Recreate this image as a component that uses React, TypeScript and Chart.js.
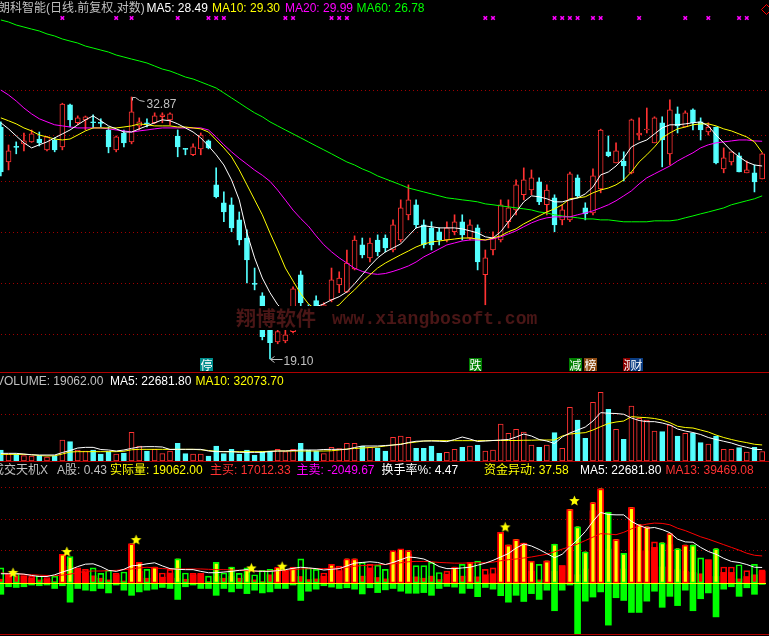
import React, { useEffect, useRef } from 'react';
import { Chart, registerables } from 'chart.js';

Chart.register(...registerables);

// ---------------- price candles ----------------
const OPEN = [
  30.88, 28.73, 29.67, 29.83, 29.95, 30.13, 29.46, 30.07, 29.64, 32.34,
  31.16, 31.35, 31.22, 31.19, 30.70, 29.46, 30.51, 29.95, 30.96, 31.16,
  31.16, 31.55, 31.35, 30.32, 29.52, 29.16, 29.52, 30.01, 27.40, 26.40,
  26.29, 25.48, 24.54, 22.34, 21.77, 20.29, 19.79, 19.83, 20.21, 22.74,
  21.24, 21.56, 21.06, 21.59, 22.27, 21.95, 23.02, 24.19, 23.55, 24.44,
  24.54, 23.94, 24.44, 25.75, 26.29, 25.22, 25.06, 24.86, 24.44, 24.86,
  25.38, 24.54, 25.06, 22.74, 23.94, 24.44, 25.38, 26.01, 26.84, 27.11,
  27.57, 26.29, 26.67, 25.48, 25.48, 27.80, 26.12, 25.85, 27.17, 29.34,
  28.67, 28.79, 28.09, 30.38, 30.70, 29.89, 31.16, 29.22, 31.74, 30.89,
  32.00, 31.22, 30.57, 30.89, 28.32, 28.73, 29.10, 28.09, 28.09, 27.74,
];
const HIGH = [
  31.22, 29.76, 29.95, 30.51, 30.70, 30.57, 30.30, 30.20, 32.45, 32.40,
  31.61, 31.60, 31.68, 31.42, 30.89, 30.32, 30.70, 32.87, 31.48, 31.42,
  31.81, 31.81, 31.81, 30.70, 29.55, 29.83, 30.51, 30.07, 28.38, 27.00,
  26.67, 25.90, 24.96, 23.06, 21.91, 20.37, 20.37, 20.29, 22.18, 22.92,
  21.37, 21.77, 21.46, 23.06, 22.88, 23.94, 24.65, 24.54, 24.54, 24.70,
  24.70, 25.48, 26.56, 27.40, 26.56, 25.48, 25.38, 25.06, 25.38, 25.75,
  25.75, 25.48, 25.22, 23.94, 24.86, 26.56, 26.56, 27.68, 28.38, 28.26,
  27.80, 27.40, 26.84, 26.29, 28.14, 27.97, 26.40, 28.32, 30.75, 30.32,
  29.89, 29.34, 31.40, 31.48, 32.13, 31.55, 31.55, 32.67, 32.20, 31.94,
  32.07, 31.48, 31.16, 30.89, 29.58, 29.34, 29.28, 28.79, 28.55, 29.28,
];
const LOW = [
  27.91, 28.26, 29.22, 29.40, 29.92, 29.70, 29.40, 29.34, 29.46, 30.89,
  31.03, 30.70, 30.83, 30.89, 29.28, 29.34, 29.64, 29.83, 30.70, 30.89,
  31.10, 31.16, 31.03, 29.04, 29.16, 29.10, 29.16, 29.52, 26.67, 25.38,
  24.86, 24.19, 22.36, 22.04, 19.87, 19.10, 19.71, 19.75, 20.16, 21.33,
  20.50, 21.30, 20.80, 21.50, 21.91, 21.91, 22.97, 23.55, 23.35, 23.65,
  23.84, 23.84, 24.34, 25.48, 25.06, 24.04, 23.94, 24.19, 24.34, 24.70,
  24.44, 24.44, 22.97, 21.37, 23.70, 24.34, 25.06, 25.75, 26.56, 26.84,
  26.29, 25.75, 24.86, 25.22, 25.38, 26.67, 25.48, 25.75, 26.95, 29.04,
  28.67, 27.62, 28.03, 30.07, 30.51, 29.89, 28.44, 28.55, 30.51, 30.89,
  30.70, 30.07, 30.38, 28.61, 28.09, 28.55, 28.14, 28.09, 27.00, 27.74,
];
const CLOSE = [
  28.14, 29.40, 29.61, 30.01, 30.45, 29.89, 30.26, 29.46, 32.40, 31.35,
  31.48, 31.55, 31.16, 31.12, 29.64, 30.26, 29.89, 31.87, 31.22, 31.09,
  31.61, 31.68, 31.74, 29.64, 29.49, 29.64, 30.38, 29.58, 26.73, 25.90,
  25.06, 24.44, 23.45, 22.29, 20.00, 19.75, 20.21, 20.08, 22.09, 21.46,
  20.80, 21.33, 21.37, 22.50, 22.59, 23.30, 24.44, 23.70, 24.29, 23.84,
  24.04, 25.22, 26.12, 26.56, 25.22, 24.19, 24.19, 24.44, 25.06, 25.38,
  24.70, 25.22, 23.35, 23.55, 24.54, 26.29, 26.12, 27.40, 27.68, 27.80,
  26.45, 27.11, 25.22, 26.01, 28.03, 26.78, 25.80, 27.91, 30.70, 29.10,
  29.40, 28.49, 31.35, 30.51, 30.76, 31.48, 30.07, 32.00, 30.96, 31.81,
  31.16, 30.70, 30.89, 28.67, 28.97, 29.34, 28.14, 28.26, 27.57, 29.22,
];

// ---------------- price moving averages ----------------
const MA5 = [
  31.16, 30.77, 30.32, 29.89, 29.58, 29.77, 29.95, 30.20, 30.45, 30.70,
  31.03, 31.35, 31.61, 31.29, 30.96, 30.77, 30.57, 30.57, 30.77, 30.96,
  31.16, 31.35, 31.29, 31.09, 30.83, 30.57, 30.20, 29.70, 29.16, 28.55,
  27.68, 26.56, 24.80, 23.55, 22.59, 21.91, 21.37, 21.06, 20.93, 21.02,
  21.15, 21.28, 21.41, 21.59, 21.73, 21.95, 22.32, 22.74, 23.16, 23.55,
  23.84, 24.04, 24.24, 24.65, 25.06, 25.17, 25.12, 25.06, 25.06, 25.06,
  25.01, 24.91, 24.80, 24.60, 24.54, 24.86, 25.38, 25.90, 26.45, 26.78,
  26.73, 26.62, 26.45, 26.45, 26.56, 26.67, 26.89, 27.28, 27.97, 28.14,
  28.49, 28.97, 29.64, 29.89, 30.07, 30.45, 30.83, 31.03, 31.03, 31.09,
  31.16, 31.22, 30.96, 30.38, 29.89, 29.40, 29.04, 28.73, 28.55, 28.49,
];
const MA10 = [
  31.48, 31.29, 31.09, 30.83, 30.64, 30.38, 30.26, 30.13, 30.07, 30.13,
  30.38, 30.64, 30.83, 30.83, 30.83, 30.83, 30.89, 30.96, 31.09, 31.03,
  30.96, 30.96, 30.96, 30.89, 30.89, 30.83, 30.77, 30.57, 30.07, 29.58,
  29.04, 28.26, 27.40, 26.56, 25.75, 24.80, 23.94, 23.06, 22.45, 21.86,
  21.41, 21.15, 21.06, 21.19, 21.37, 21.73, 22.04, 22.41, 22.74, 23.06,
  23.30, 23.50, 23.70, 23.89, 24.09, 24.24, 24.34, 24.39, 24.44, 24.49,
  24.54, 24.54, 24.49, 24.44, 24.54, 24.65, 24.86, 25.01, 25.27, 25.48,
  25.69, 25.90, 26.07, 26.29, 26.62, 26.67, 26.73, 26.95, 27.11, 27.22,
  27.40, 27.68, 28.14, 28.73, 29.16, 29.64, 30.20, 30.51, 30.77, 30.89,
  31.03, 31.09, 31.09, 30.96, 30.77, 30.64, 30.45, 30.26, 29.95, 29.30,
];
const MA20 = [
  33.35, 33.01, 32.60, 32.13, 31.74, 31.42, 31.22, 31.03, 30.96, 30.89,
  30.83, 30.83, 30.83, 30.83, 30.77, 30.70, 30.64, 30.57, 30.64, 30.70,
  30.77, 30.83, 30.83, 30.83, 30.83, 30.83, 30.83, 30.70, 30.26, 29.77,
  29.34, 28.95, 28.60, 28.25, 27.95, 27.60, 27.10, 26.55, 26.00, 25.55,
  25.15, 24.65, 24.20, 23.85, 23.55, 23.30, 23.05, 22.90, 22.80, 22.76,
  22.80, 22.90, 23.02, 23.16, 23.35, 23.60, 23.79, 23.99, 24.19, 24.29,
  24.39, 24.44, 24.44, 24.44, 24.49, 24.60, 24.75, 24.91, 25.12, 25.32,
  25.48, 25.59, 25.64, 25.64, 25.64, 25.75, 25.85, 25.96, 26.12, 26.29,
  26.51, 26.78, 27.06, 27.45, 27.80, 28.03, 28.26, 28.49, 28.79, 29.04,
  29.28, 29.58, 29.77, 29.89, 29.95, 30.01, 30.07, 30.07, 30.01, 29.99,
];
const MA60 = [
  38.56, 38.40, 38.16, 38.00, 37.84, 37.69, 37.46, 37.30, 37.07, 36.91,
  36.76, 36.53, 36.38, 36.23, 36.08, 35.86, 35.71, 35.56, 35.42, 35.27,
  35.05, 34.83, 34.69, 34.48, 34.26, 34.12, 33.91, 33.70, 33.49, 33.15,
  32.81, 32.47, 32.13, 31.81, 31.55, 31.22, 30.96, 30.70, 30.45, 30.20,
  29.95, 29.70, 29.46, 29.22, 28.97, 28.73, 28.55, 28.32, 28.14, 27.91,
  27.74, 27.57, 27.40, 27.22, 27.11, 27.00, 26.89, 26.78, 26.67, 26.62,
  26.56, 26.51, 26.45, 26.34, 26.29, 26.23, 26.18, 26.12, 26.07, 26.01,
  25.90, 25.85, 25.75, 25.69, 25.64, 25.59, 25.53, 25.53, 25.48, 25.48,
  25.43, 25.38, 25.38, 25.38, 25.38, 25.43, 25.43, 25.43, 25.48, 25.59,
  25.69, 25.80, 25.90, 26.01, 26.12, 26.29, 26.40, 26.51, 26.62, 26.78,
];

// ---------------- volume panel ----------------
const VOLUME = [
  22000, 14000, 14000, 10600, 10000, 10600, 8000, 10000, 42000, 38600,
  22000, 20000, 22000, 14000, 18600, 14000, 16000, 57300, 30000, 20000,
  23300, 14600, 20000, 35300, 14600, 14000, 14000, 10000, 30000, 14600,
  23300, 14000, 22000, 12000, 18600, 20000, 23300, 18600, 23300, 35300,
  22000, 20000, 14600, 27300, 24600, 35300, 35300, 30000, 27300, 26000,
  20000, 47300, 50000, 47300, 25300, 25300, 30000, 15300, 17300, 23300,
  27300, 30000, 32000, 20000, 22000, 74000, 55300, 63300, 58000, 32000,
  27300, 32000, 56600, 25300, 107300, 82000, 45300, 117300, 137300, 103300,
  63300, 43300, 110000, 85300, 82000, 60000, 58600, 72000, 50000, 55300,
  55300, 36600, 34000, 50000, 23300, 23300, 26600, 18000, 27300, 19062,
];
const VOL_MA5 = [
  15300, 15300, 15300, 14000, 12500, 12000, 12000, 12000, 17000, 21000,
  26000, 27300, 27300, 23000, 22000, 20000, 22000, 25300, 28000, 28700,
  28700, 28000, 23000, 23300, 23300, 23300, 23300, 20000, 18700, 18700,
  18700, 17300, 17300, 17300, 17300, 19000, 20000, 20000, 21000, 22000,
  22000, 22000, 23000, 23300, 23300, 23300, 27000, 30000, 30000, 30000,
  31000, 32000, 33000, 37000, 39500, 40000, 40000, 39500, 38700, 43000,
  48000, 44000, 39000, 40000, 41000, 42000, 43000, 48000, 54000, 50000,
  43000, 40000, 35000, 48000, 56000, 62000, 68000, 80000, 96700, 95500,
  95000, 93500, 86000, 81000, 78700, 78700, 76000, 72000, 64000, 60000,
  57000, 53000, 47000, 43000, 39500, 36000, 31000, 27300, 23500, 22681.8,
];
const VOL_MA10 = [
  13300, 13300, 13300, 13300, 12500, 11000, 10000, 10500, 14000, 18000,
  18700, 18700, 18700, 18700, 18700, 18700, 19500, 22500, 23300, 23300,
  23300, 23300, 23300, 23300, 23300, 23300, 22500, 21000, 19500, 18700,
  18700, 18700, 18700, 18700, 18700, 19500, 20000, 20000, 20000, 20000,
  20000, 20000, 20000, 20500, 22000, 24000, 25000, 26000, 27000, 28000,
  30000, 32000, 34000, 36000, 38000, 40000, 40700, 40700, 40700, 40700,
  40700, 40700, 40700, 40700, 41000, 41000, 41000, 41000, 41500, 41500,
  42000, 42000, 42000, 50000, 54000, 55500, 56700, 62000, 68700, 75000,
  78000, 80000, 88700, 87500, 86700, 85000, 82000, 76700, 69500, 67000,
  66000, 62000, 58000, 52000, 47000, 43000, 39500, 36700, 33500, 32073.7,
];

// ---------------- money-flow panel ----------------
const BUY = [
  5500, 12000, 10500, 10500, 7000, 4500, 5500, 2000, 41000, 24500,
  20000, 16000, 10500, 7000, 4500, 12000, 3000, 57000, 17000, 7000,
  23000, 8500, 14500, 7000, 5500, 12000, 13500, 2000, 9500, 7000,
  9500, 7000, 12000, 4500, 2000, 12000, 22000, 17000, 22000, 9500,
  5000, 6000, 10000, 22000, 18000, 33000, 32000, 10000, 22000, 8000,
  6000, 44000, 46000, 42000, 9000, 7000, 10000, 5000, 13000, 18000,
  10000, 24000, 9000, 12000, 13500, 74000, 55300, 63300, 58000, 17000,
  4500, 32000, 17000, 25300, 107300, 12000, 20500, 105500, 137300, 49500,
  63300, 20500, 110000, 47000, 47000, 52000, 23500, 56000, 19500, 17000,
  15500, 13500, 34000, 9500, 15500, 15500, 6000, 9500, 12000, 17012.33,
];
const SELL = [
  -16500, -5500, -6500, -5500, -3000, -4000, -3000, -8000, -4000, -28000,
  -8000, -10500, -11500, -8000, -14500, -3000, -10500, -18000, -13000, -10500,
  -9000, -6500, -8000, -24000, -5500, -3000, -8000, -8000, -18000, -8000,
  -13000, -8000, -15500, -10500, -14500, -13000, -8000, -8000, -3000, -25500,
  -12000, -9000, -4000, -6000, -8000, -7000, -9000, -16000, -7000, -14000,
  -10000, -8000, -12000, -15000, -15000, -14000, -18000, -8000, -5000, -6000,
  -15000, -8000, -20000, -6500, -9000, -18500, -28000, -18000, -27000, -15500,
  -24000, -10500, -40500, -10500, -3000, -74500, -26500, -20500, -13000, -61500,
  -21500, -25500, -43000, -43000, -26500, -12000, -35500, -19500, -33000, -10500,
  -40500, -23000, -14500, -49500, -9000, -5500, -19500, -7000, -16500, -2049.67,
];
const SURGE_IDX = [8, 9, 17, 18, 20, 23, 28, 30, 32, 36, 38, 43, 45, 46, 51, 52, 53, 59, 61,
  65, 66, 67, 68, 69, 71, 72, 74, 75, 76, 77, 78, 79, 80, 81, 82, 83, 84, 86, 87, 88, 89, 90, 93];
const SURGE_VAL = [41000, 37000, 57000, 30000, 23000, 35000, 28500, 23000, 19500, 22000, 22000, 27000, 35000, 35000, 46000, 48000, 47000, 23000, 30000,
  74000, 55300, 63300, 58000, 31500, 32000, 56600, 107300, 82000, 45300, 117300, 137300, 103300, 63300, 43300, 110000, 85300, 82000, 58600, 72000, 50000, 55300, 55300, 50000];
const FLOW_MA5 = [
  13500, 13500, 13500, 13000, 11000, 9500, 9500, 12000, 16000, 19500,
  24000, 27500, 28000, 24000, 18500, 17000, 20000, 25000, 26000, 28000,
  29500, 25000, 21000, 20000, 19500, 19500, 17000, 15000, 15000, 16000,
  17000, 18500, 19500, 17500, 17000, 17000, 18000, 19500, 21500, 23000,
  22000, 21000, 19000, 20000, 21000, 25000, 29000, 30000, 31000, 30000,
  27000, 30000, 34000, 38000, 37000, 35000, 30000, 24000, 21000, 21000,
  22000, 23000, 26000, 29000, 33000, 38000, 43000, 51000, 57000, 54000,
  49000, 43000, 37000, 42000, 53000, 63000, 75000, 90000, 103000, 100000,
  99500, 99500, 90000, 84000, 80000, 81000, 78000, 73500, 64000, 60000,
  59500, 52000, 46000, 42000, 36000, 31500, 30000, 27000, 23000, 22681.8,
];
const FLOW_MA13 = [
  14500, 14000, 13500, 12500, 12000, 11500, 11000, 10500, 11500, 13000,
  15000, 17000, 17500, 17500, 18000, 18500, 19500, 20500, 22000, 23000,
  22000, 21000, 20500, 20500, 20500, 20500, 20500, 20000, 19500, 19500,
  19000, 18500, 18000, 17500, 17000, 17500, 18000, 18500, 19500, 20500,
  21000, 21000, 21000, 21500, 22000, 23000, 24500, 25500, 26000, 26500,
  27000, 28000, 29500, 31000, 31500, 31500, 31000, 30000, 29500, 29000,
  29000, 29500, 29500, 29500, 30500, 32500, 34000, 35000, 36500, 38000,
  40000, 42000, 45500, 49500, 53000, 57000, 62000, 67000, 72000, 71500,
  70500, 74000, 79000, 83500, 86000, 87500, 87000, 85000, 80000, 76500,
  72000, 67500, 64000, 60000, 56000, 52000, 48000, 43500, 40500, 39469.08,
];
const STAR_IDX = [1, 8, 17, 32, 36, 65, 74];
const STAR_VAL = [15500, 46000, 63500, 22000, 24500, 82000, 120500];

// ---------------- markers / signals / grids ----------------
const MARK_IDX = [8, 15, 17, 23, 27, 28, 29, 37, 38, 43, 44, 45, 63, 64, 72, 73, 74, 75, 77, 78, 83, 89, 92, 96, 97];
const MARK_PRICE = 38.72;
const SIGNAL_IDX = [26, 61, 74, 76, 81, 82];
const SIGNAL_TEXT = ['停', '跌', '减', '榜', '测', '财'];
const SIGNAL_BG = ['#008c8c', '#008000', '#008000', '#8b4a13', '#8b0000', '#0a3c82'];
const PRICE_GRID = [33.35, 30.32, 27.57, 24.8, 22.32, 20.08];
const VOL_GRID = [92000];
const FLOW_GRID = [46720, 92710, 138700];

const LABELS = OPEN.map((_, i) => 'D' + (i + 1));
const UP = OPEN.map((o, i) => CLOSE[i] >= o);
const SURGE = LABELS.map((_, i) => { const k = SURGE_IDX.indexOf(i); return k >= 0 ? SURGE_VAL[k] : null; });
const STAR = LABELS.map((_, i) => { const k = STAR_IDX.indexOf(i); return k >= 0 ? STAR_VAL[k] : null; });
const MARK = LABELS.map((_, i) => (MARK_IDX.includes(i) ? MARK_PRICE : null));

const RED = '#ff3232';
const CYAN = '#54ffff';
const GRID_RED = '#a00000';

const HEADER = [
  { top: 1, items: [[-2, '朗科智能(日线.前复权.对数)', '#c0c0c0'], [146.5, 'MA5: 28.49', '#ffffff'], [212, 'MA10: 29.30', '#ffff00'], [285, 'MA20: 29.99', '#ff00ff'], [356.5, 'MA60: 26.78', '#00ff00']] },
  { top: 374, items: [[-4, 'VOLUME: 19062.00', '#c0c0c0'], [110, 'MA5: 22681.80', '#ffffff'], [195.5, 'MA10: 32073.70', '#ffff00']] },
  { top: 463, items: [[-8, '成交天机X', '#c0c0c0'], [57, 'A股: 0.43', '#c0c0c0'], [110, '实际量: 19062.00', '#ffff00'], [210, '主买: 17012.33', '#ff3232'], [296.5, '主卖: -2049.67', '#ff00ff'], [381.5, '换手率%: 4.47', '#ffffff'], [484, '资金异动: 37.58', '#ffff00'], [580, 'MA5: 22681.80', '#ffffff'], [665.5, 'MA13: 39469.08', '#ff3232']] },
];

function makeStar(r: number, dx: number) {
  const c = document.createElement('canvas');
  const w = Math.ceil(2 * (r + Math.abs(dx)) + 2);
  const h = Math.ceil(2 * r + 2);
  c.width = w; c.height = h;
  const g = c.getContext('2d')!;
  const cx = w / 2 + dx, cy = h / 2 + 0.5;
  g.beginPath();
  for (let k = 0; k < 10; k++) {
    const a = -Math.PI / 2 + (k * Math.PI) / 5;
    const rr = k % 2 === 0 ? r : r * 0.45;
    g.lineTo(cx + rr * Math.cos(a), cy + rr * Math.sin(a));
  }
  g.closePath();
  g.fillStyle = '#ffff00';
  g.fill();
  return c;
}

const xAxis = { type: 'category', display: false, offset: true, grid: { display: false } };
const gridY = (extra: any, gridVals: number[]) => ({
  display: true,
  bounds: 'data',
  ticks: { display: false },
  grid: { color: GRID_RED, lineWidth: 1, drawTicks: false },
  border: { display: false, dash: [1, 3] },
  afterBuildTicks: (s: any) => { s.ticks = gridVals.map((v) => ({ value: v })); },
  ...extra,
});
const baseOpts = (scales: any, padRight = 0) => ({
  responsive: false,
  maintainAspectRatio: false,
  animation: false,
  devicePixelRatio: 1,
  events: [],
  layout: { autoPadding: false, padding: { left: 0, right: padRight, top: 0, bottom: 0 } },
  plugins: { legend: { display: false }, tooltip: { enabled: false } },
  scales,
});
const lineDs = (data: any[], color: string, order = 0) => ({
  type: 'line', data, borderColor: color, borderWidth: 1, pointRadius: 0, tension: 0, order, spanGaps: true,
});

const p1Overlay = {
  id: 'p1Overlay',
  afterDatasetsDraw(chart: any) {
    const { ctx, scales, chartArea } = chart;
    const x = scales.x, y = scales.y;
    ctx.save();
    // watermark (its band hides what lies beneath)
    ctx.fillStyle = '#000';
    ctx.fillRect(235, 306, 308, 24);
    ctx.fillStyle = '#4a1616';
    ctx.textAlign = 'left';
    ctx.textBaseline = 'middle';
    ctx.font = 'bold 20px "Noto Sans CJK SC"';
    ctx.fillText('翔博软件', 239, 318);
    ctx.font = 'bold 18px "Liberation Mono"';
    ctx.fillText('www.xiangbosoft.com', 335, 319);

    // highest / lowest price notes
    let hi = 0, lo = 0;
    HIGH.forEach((v, i) => { if (v > HIGH[hi]) hi = i; });
    LOW.forEach((v, i) => { if (v < LOW[lo]) lo = i; });
    ctx.strokeStyle = '#c0c0c0';
    ctx.fillStyle = '#c0c0c0';
    ctx.lineWidth = 1;
    ctx.font = '12px "Liberation Sans"';
    ctx.textBaseline = 'alphabetic';
    const hx = Math.round(x.getPixelForValue(hi)) + 0.5, hy = Math.round(y.getPixelForValue(HIGH[hi])) + 0.5;
    ctx.beginPath();
    ctx.moveTo(hx, hy + 3); ctx.lineTo(hx, hy); ctx.lineTo(hx + 3, hy);
    ctx.lineTo(hx + 7, hy + 3); ctx.lineTo(hx + 12, hy + 4);
    ctx.stroke();
    ctx.fillText(HIGH[hi].toFixed(2), hx + 14, hy + 10);
    const lx = Math.round(x.getPixelForValue(lo)) + 0.5, ly = Math.round(y.getPixelForValue(LOW[lo])) + 0.5;
    ctx.beginPath();
    ctx.moveTo(lx, ly); ctx.lineTo(lx + 12, ly);
    ctx.moveTo(lx + 4, ly - 3); ctx.lineTo(lx, ly); ctx.lineTo(lx + 4, ly + 3);
    ctx.stroke();
    ctx.fillText(LOW[lo].toFixed(2), lx + 13, ly + 5);

    // signal boxes
    ctx.font = '12px "Noto Sans CJK SC"';
    ctx.textAlign = 'center';
    ctx.textBaseline = 'middle';
    SIGNAL_IDX.forEach((idx, k) => {
      const left = Math.round(x.getPixelForValue(idx)) - 1;
      const top = chartArea.bottom - 14;
      ctx.fillStyle = SIGNAL_BG[k];
      ctx.fillRect(left, top, 13, 13);
      ctx.fillStyle = '#ffffff';
      ctx.fillText(SIGNAL_TEXT[k], left + 6.5, top + 7);
    });

    // diamond at top right
    ctx.strokeStyle = '#ff0000';
    ctx.beginPath();
    ctx.moveTo(764.5, 9.5); ctx.lineTo(769.5, 4.5); ctx.lineTo(774.5, 9.5); ctx.lineTo(769.5, 14.5); ctx.closePath();
    ctx.stroke();
    ctx.restore();
  },
};

const p3Overlay = {
  id: 'p3Overlay',
  afterDatasetsDraw(chart: any) {
    const { ctx, scales, chartArea } = chart;
    const yz = Math.round(scales.y.getPixelForValue(0)) + 0.5;
    ctx.save();
    ctx.strokeStyle = '#ffff00';
    ctx.lineWidth = 1;
    ctx.beginPath();
    ctx.moveTo(chartArea.left, yz); ctx.lineTo(chartArea.right, yz);
    ctx.stroke();
    ctx.restore();
  },
};

export default function App() {
  const r1 = useRef<HTMLCanvasElement>(null);
  const r2 = useRef<HTMLCanvasElement>(null);
  const r3 = useRef<HTMLCanvasElement>(null);

  useEffect(() => {
    const charts: any[] = [];
    const star = makeStar(5.5, 4.5);

    charts.push(new Chart(r1.current as any, {
      type: 'bar',
      data: {
        labels: LABELS,
        datasets: [
          { type: 'line', data: MARK, showLine: false, pointStyle: 'crossRot', pointRadius: 2.5, borderWidth: 1.6, borderColor: '#ff00ff', order: -1 } as any,
          lineDs(MA5, '#ffffff'), lineDs(MA10, '#ffff00'), lineDs(MA20, '#ff00ff'), lineDs(MA60, '#00ff00'),
          {
            type: 'bar', data: OPEN.map((o, i) => [o, CLOSE[i]]), grouped: false, barThickness: 5, minBarLength: 1,
            backgroundColor: UP.map((u) => (u ? '#000000' : CYAN)), borderColor: UP.map((u) => (u ? RED : CYAN)),
            borderWidth: 1, borderSkipped: false, order: 1,
          },
          {
            type: 'bar', data: LOW.map((l, i) => [l, HIGH[i]]), grouped: false, barThickness: 1,
            backgroundColor: UP.map((u) => (u ? RED : CYAN)), borderWidth: 0, order: 2,
          },
        ] as any,
      },
      options: baseOpts({
        x: xAxis,
        y: gridY({ type: 'logarithmic', min: 18.59, max: 40.19 }, PRICE_GRID),
      }, 3) as any,
      plugins: [p1Overlay],
    }));

    charts.push(new Chart(r2.current as any, {
      type: 'bar',
      data: {
        labels: LABELS,
        datasets: [
          lineDs(VOL_MA5, '#ffffff'), lineDs(VOL_MA10, '#ffff00'),
          {
            type: 'bar', data: VOLUME, grouped: false, barThickness: 5,
            backgroundColor: UP.map((u) => (u ? '#000000' : CYAN)), borderColor: UP.map((u) => (u ? RED : CYAN)),
            borderWidth: 1, borderSkipped: false, order: 1,
          },
        ] as any,
      },
      options: baseOpts({ x: xAxis, y: gridY({ type: 'linear', min: 0, max: 178000 }, VOL_GRID) }) as any,
    }));

    charts.push(new Chart(r3.current as any, {
      type: 'bar',
      data: {
        labels: LABELS,
        datasets: [
          { type: 'line', data: STAR, showLine: false, pointStyle: star, pointRadius: 5, order: -2 } as any,
          lineDs(FLOW_MA5, '#ffffff', -1), lineDs(FLOW_MA13, '#ff0000', -1),
          {
            type: 'bar', data: VOLUME, grouped: false, barThickness: 6, backgroundColor: 'rgba(0,0,0,0)',
            borderColor: UP.map((u) => (u ? '#ff0000' : '#00ff00')), borderWidth: 1, borderSkipped: false, order: 1,
          },
          { type: 'bar', data: SURGE, grouped: false, barThickness: 3, backgroundColor: '#ffff00', order: 2 },
          { type: 'bar', data: BUY, grouped: false, barThickness: 6, backgroundColor: '#ff0000', order: 3 },
          { type: 'bar', data: SELL, grouped: false, barThickness: 6, backgroundColor: '#00ff00', order: 4 },
        ] as any,
      },
      options: baseOpts({ x: xAxis, y: gridY({ type: 'linear', min: -75920, max: 178120 }, FLOW_GRID) }) as any,
      plugins: [p3Overlay],
    }));

    return () => charts.forEach((c) => c.destroy());
  }, []);

  return (
    <div style={{ position: 'fixed', left: 0, top: 0, width: 769, height: 636, background: '#000', overflow: 'hidden',
      fontFamily: '"Liberation Sans", "Noto Sans CJK SC", sans-serif', fontSize: 12 }}>
      <canvas ref={r1} width={772} height={372} style={{ position: 'absolute', left: -3, top: 0 }} />
      <canvas ref={r2} width={769} height={89} style={{ position: 'absolute', left: -3, top: 372 }} />
      <canvas ref={r3} width={769} height={174} style={{ position: 'absolute', left: -3, top: 461 }} />
      <div style={{ position: 'absolute', left: 0, top: 372, width: 769, height: 1, background: '#b00000' }} />
      <div style={{ position: 'absolute', left: 0, top: 461, width: 769, height: 1, background: '#b00000' }} />
      <div style={{ position: 'absolute', left: 0, top: 634, width: 769, height: 1, background: '#b00000' }} />
      {HEADER.map((row, ri) => row.items.map(([left, text, color], k) => (
        <span key={ri + '-' + k} style={{ position: 'absolute', left: left as number, top: row.top, color: color as string,
          whiteSpace: 'pre', lineHeight: '14px' }}>{text as string}</span>
      )))}
    </div>
  );
}
